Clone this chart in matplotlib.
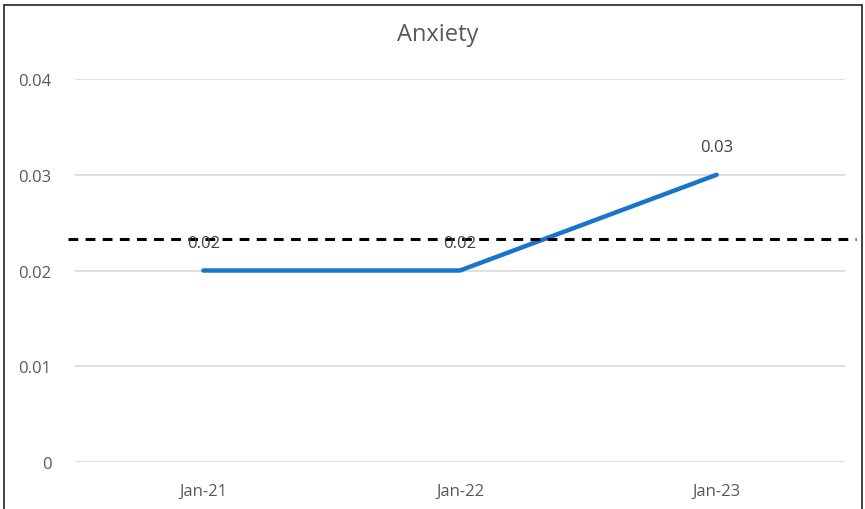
import matplotlib
matplotlib.use("Agg")
import matplotlib.pyplot as plt
from matplotlib.patches import Rectangle

# chart data
categories = ["Jan-21", "Jan-22", "Jan-23"]
values = [0.02, 0.02, 0.03]
labels = ["0.02", "0.02", "0.03"]
average = sum(values) / len(values)
yticks = [0, 0.01, 0.02, 0.03, 0.04]
ytick_labels = ["0", "0.01", "0.02", "0.03", "0.04"]

plt.rcParams["font.family"] = ["Open Sans", "DejaVu Sans"]

fig = plt.figure(figsize=(8.65, 5.10), dpi=100)
ax = fig.add_axes([75 / 865, 47 / 510, 770 / 865, 383 / 510])

x = list(range(len(categories)))
ax.plot(x, values, color="#1874CD", linewidth=3.2, solid_capstyle="round",
        solid_joinstyle="round", zorder=3)

# dashed average line, runs a little past the plot area
ax.axhline(average, xmin=-0.009, xmax=1.014, color="black", linewidth=2.2,
           linestyle=(0, (3.2, 2.4)), clip_on=False, zorder=4)

for xi, v, lab in zip(x, values, labels):
    ax.annotate(lab, (xi, v), xytext=(0, 20), textcoords="offset points",
                ha="center", va="center", fontsize=12, color="#404040", zorder=5)

ax.set_xlim(-0.5, 2.5)
ax.set_ylim(0, 0.04)
ax.set_yticks(yticks)
ax.set_yticklabels(ytick_labels)
ax.set_xticks(x)
ax.set_xticklabels(categories)

ax.grid(axis="y", color="#d9d9d9", linewidth=1.2)
ax.set_axisbelow(True)
for s in ax.spines.values():
    s.set_visible(False)
ax.tick_params(axis="both", length=0, colors="#595959")
ax.tick_params(axis="y", pad=17, labelsize=12)
ax.tick_params(axis="x", pad=15, labelsize=12)

fig.text(438 / 865, 1 - 35 / 510, "Anxiety", fontsize=17, color="#595959",
         ha="center", va="center")

# outer chart border (pixel coords, bottom edge runs off the image)
fig.patches.append(Rectangle((4, -20), 858, 510 - 6 + 20, transform=None,
                             fill=False, edgecolor="#333333", linewidth=1.3))

fig.savefig("out.png", dpi=100)
